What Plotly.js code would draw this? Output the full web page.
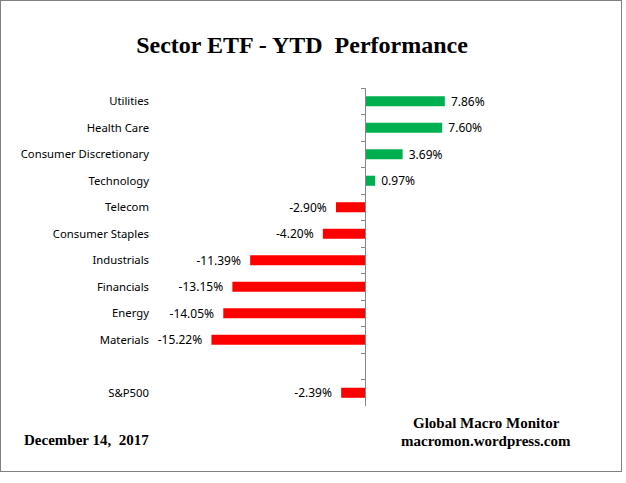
<!DOCTYPE html>
<html>
<head>
<meta charset="utf-8">
<script src="https://cdn.plot.ly/plotly-3.0.1.min.js"></script>
<style>
html,body{margin:0;padding:0;background:#fff;}
#wrap{position:relative;width:626px;height:483px;}
#chart{width:626px;height:483px;}
#frame{position:absolute;left:0;top:0;width:620px;height:470px;border:1.5px solid #808080;pointer-events:none;}
</style>
</head>
<body>
<div id="wrap"><div id="chart"></div><div id="frame"></div></div>
<script>
// Data
const categories = ["Utilities","Health Care","Consumer Discretionary","Technology","Telecom","Consumer Staples","Industrials","Financials","Energy","Materials"," ","S&P500"];
const values = [7.86, 7.60, 3.69, 0.97, -2.90, -4.20, -11.39, -13.15, -14.05, -15.22, null, -2.39];
const titleText = "Sector ETF - YTD\u00a0\u00a0Performance";
const dateText = "December 14,\u00a0\u00a02017";
const sourceLine1 = "Global Macro Monitor";
const sourceLine2 = "macromon.wordpress.com";

const W = 626, H = 483, L = 153, R = 109, T = 88, B = 77;
const xRange = [-21, 15];
function px(x){ return (x - L) / (W - L - R); }
function py(y){ return (H - B - y) / (H - T - B); }

const colors = values.map(v => (v !== null && v >= 0) ? "#00B050" : "#FF0000");
const labelFont = {family: "Noto Sans, Open Sans, sans-serif", size: 11.3, color: "#000"};
const valueFont = {family: "Noto Sans, Open Sans, sans-serif", size: 12, color: "#000"};
const serifBold = {family: "Liberation Serif, Times New Roman, serif", size: 15, color: "#000", weight: "bold"};

const yRange = [categories.length - 0.5, -0.5];

const traces = [
  {
    type: "bar", orientation: "h",
    x: values, y: categories,
    marker: {color: colors},
    width: 0.38,
    text: values.map(v => v === null ? "" : (v >= 0 ? "\u00a0" + v.toFixed(2) + "%" : v.toFixed(2) + "%\u00a0\u00a0")),
    textposition: "outside",
    constraintext: "none",
    textfont: valueFont,
    cliponaxis: false,
    hoverinfo: "skip",
    xaxis: "x", yaxis: "y"
  },
  {
    type: "scatter", mode: "none",
    x: categories.map(() => 0), y: categories,
    hoverinfo: "skip", showlegend: false,
    xaxis: "x", yaxis: "y2"
  }
];

const layout = {
  width: W, height: H,
  margin: {l: L, r: R, t: T, b: B, pad: 0},
  paper_bgcolor: "#fff", plot_bgcolor: "#fff",
  showlegend: false,
  title: {
    text: titleText,
    font: {family: "Liberation Serif, Times New Roman, serif", size: 24, color: "#000", weight: "bold"},
    xref: "container", yref: "container",
    x: 302 / W, xanchor: "center",
    y: 1 - 45 / H, yanchor: "middle"
  },
  xaxis: {
    range: xRange, showgrid: false, zeroline: false, showline: false,
    showticklabels: false, ticks: "", fixedrange: true
  },
  yaxis: {
    type: "category", categoryorder: "array", categoryarray: categories,
    range: yRange, showgrid: false, zeroline: false, showline: false,
    ticks: "", showticklabels: true, tickfont: labelFont, ticklabelstandoff: 3
  },
  yaxis2: {
    type: "category", categoryorder: "array", categoryarray: categories,
    range: yRange, overlaying: "y", anchor: "free",
    position: (0 - xRange[0]) / (xRange[1] - xRange[0]),
    showgrid: false, zeroline: false,
    showline: true, linecolor: "#868686", linewidth: 1,
    ticks: "outside", tickson: "boundaries", ticklen: 4, tickcolor: "#868686", tickwidth: 1,
    showticklabels: false
  },
  annotations: [
    {text: dateText, xref: "paper", yref: "paper", x: px(22), y: py(440), xanchor: "left", yanchor: "middle", showarrow: false, font: serifBold},
    {text: sourceLine1, xref: "paper", yref: "paper", x: px(486), y: py(423), xanchor: "center", yanchor: "middle", showarrow: false, font: serifBold},
    {text: sourceLine2, xref: "paper", yref: "paper", x: px(486), y: py(441), xanchor: "center", yanchor: "middle", showarrow: false, font: serifBold}
  ]
};

Plotly.newPlot("chart", traces, layout, {displayModeBar: false, staticPlot: true});
</script>
</body>
</html>
